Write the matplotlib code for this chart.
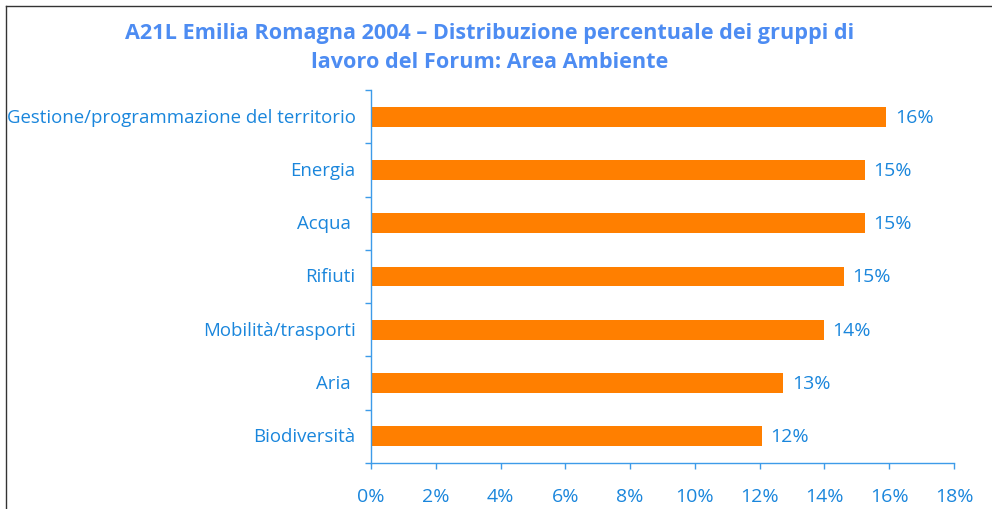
import matplotlib
matplotlib.use("Agg")
import matplotlib.pyplot as plt
from matplotlib.lines import Line2D

categories = [
    "Gestione/programmazione del territorio",
    "Energia",
    "Acqua ",
    "Rifiuti",
    "Mobilità/trasporti",
    "Aria ",
    "Biodiversità",
]
values = [15.9, 15.25, 15.25, 14.6, 13.98, 12.72, 12.07]
xticks = [0, 2, 4, 6, 8, 10, 12, 14, 16, 18]

ORANGE = "#ff7f00"
TEXT_BLUE = "#1a86dc"
TITLE_BLUE = "#4d8cf2"
AXIS_BLUE = "#3d9be9"

plt.rcParams["font.family"] = ["Open Sans", "DejaVu Sans"]

fig = plt.figure(figsize=(9.92, 5.10), dpi=100)
ax = fig.add_axes([371 / 992, 1 - 464 / 510, (954 - 371) / 992, (464 - 91) / 510])

ypos = list(range(len(categories)))
ax.barh(ypos, values, height=0.37, color=ORANGE)
for y, v in zip(ypos, values):
    ax.text(v + 0.27, y, f"{v:.0f}%", va="center", ha="left",
            color=TEXT_BLUE, fontsize=14)

ax.set_xlim(0, 18)
ax.set_ylim(len(categories) - 0.5, -0.5)
ax.set_xticks(xticks)
ax.set_xticklabels([f"{t}%" for t in xticks])
ax.set_yticks(ypos)
ax.set_yticklabels(categories, va="center")
ax.set_yticks([i - 0.5 for i in range(len(categories) + 1)], minor=True)

ax.tick_params(axis="y", which="major", length=0, pad=11, labelsize=13.4,
               labelcolor=TEXT_BLUE)
ax.tick_params(axis="y", which="minor", length=4, width=1, color=AXIS_BLUE)
ax.tick_params(axis="x", which="major", length=4, width=1, color=AXIS_BLUE,
               pad=13, labelsize=14, labelcolor=TEXT_BLUE)

for side in ["top", "right"]:
    ax.spines[side].set_visible(False)
for side in ["left", "bottom"]:
    ax.spines[side].set_color(AXIS_BLUE)
    ax.spines[side].set_linewidth(1)

fig.text(490 / 992, 1 - 48 / 510,
         "A21L Emilia Romagna 2004 – Distribuzione percentuale dei gruppi di\n"
         "lavoro del Forum: Area Ambiente",
         ha="center", va="center", color=TITLE_BLUE, fontsize=15.6,
         fontweight="bold", linespacing=1.5)

# outer frame (only left and top edges visible in the crop)
fig.add_artist(Line2D([6 / 992, 6 / 992], [0, 1 - 7 / 510],
                      transform=fig.transFigure, color="#333333", lw=1))
fig.add_artist(Line2D([6 / 992, 1], [1 - 7 / 510, 1 - 7 / 510],
                      transform=fig.transFigure, color="#333333", lw=1))

fig.savefig("out.png", dpi=100)
